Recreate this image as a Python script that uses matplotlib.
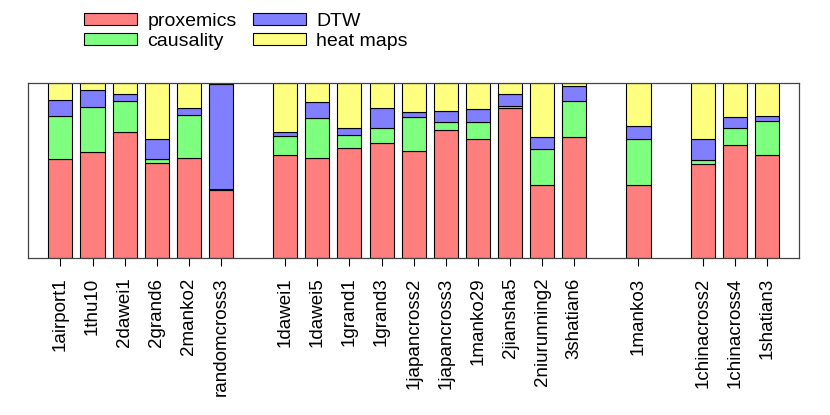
import matplotlib.pyplot as plt

plt.rcParams['font.family'] = ['Liberation Sans', 'DejaVu Sans']

names = ['1airport1', '1thu10', '2dawei1', '2grand6', '2manko2', 'randomcross3',
         '1dawei1', '1dawei5', '1grand1', '1grand3', '1japancross2', '1japancross3',
         '1manko29', '2jiansha5', '2niurunning2', '3shatian6',
         '1manko3',
         '1chinacross2', '1chinacross4', '1shatian3']
# slot index of each bar (empty slots separate the groups)
slots = [0, 1, 2, 3, 4, 5, 7, 8, 9, 10, 11, 12, 13, 14, 15, 16, 18, 20, 21, 22]

proxemics = [0.568, 0.605, 0.722, 0.544, 0.570, 0.390,
             0.587, 0.570, 0.631, 0.656, 0.610, 0.728, 0.677, 0.857, 0.420, 0.690,
             0.416, 0.538, 0.643, 0.586]
causality = [0.243, 0.257, 0.175, 0.019, 0.247, 0.003,
             0.108, 0.230, 0.072, 0.086, 0.192, 0.048, 0.099, 0.013, 0.202, 0.205,
             0.262, 0.023, 0.097, 0.196]
dtw = [0.091, 0.095, 0.038, 0.116, 0.038, 0.600,
       0.027, 0.091, 0.040, 0.112, 0.032, 0.063, 0.074, 0.065, 0.070, 0.089,
       0.076, 0.120, 0.067, 0.029]
heat_maps = [0.097, 0.044, 0.065, 0.321, 0.144, 0.007,
             0.278, 0.108, 0.257, 0.146, 0.165, 0.162, 0.150, 0.065, 0.308, 0.015,
             0.245, 0.319, 0.194, 0.190]

series = [('proxemics', proxemics, '#FF7F7F'),
          ('causality', causality, '#7FFF7F'),
          ('DTW', dtw, '#7F7FFF'),
          ('heat maps', heat_maps, '#FFFF7F')]

fig = plt.figure(figsize=(8.3, 4.15), dpi=100)
ax = fig.add_axes([0.0341, 0.3776, 0.9286, 0.4231])

bottom = [0.0] * len(names)
handles = []
for label, vals, color in series:
    b = ax.bar(slots, vals, width=0.75, bottom=bottom, color=color,
               edgecolor='black', linewidth=0.8, label=label)
    handles.append(b)
    bottom = [p + v for p, v in zip(bottom, vals)]

ax.set_xlim(-1, 23)
ax.set_ylim(0, 1)
ax.set_yticks([])
ax.set_xticks(slots)
ax.set_xticklabels(names, rotation=90, fontsize=13.5)
ax.tick_params(axis='x', length=6, width=0.8, pad=8)
for s in ax.spines.values():
    s.set_color('#444444')
    s.set_linewidth(0.9)

# legend order: column 1 proxemics/causality, column 2 DTW/heat maps
fig.legend(handles=handles, labels=[h.get_label() for h in handles],
           loc='upper left', bbox_to_anchor=(84 / 830, 1 - 13 / 415),
           ncol=2, frameon=False, fontsize=14, handlelength=2.75,
           handleheight=0.6, handletextpad=0.5, columnspacing=0.85,
           labelspacing=0.14, borderpad=0, borderaxespad=0)

fig.savefig('out.png', dpi=100)
